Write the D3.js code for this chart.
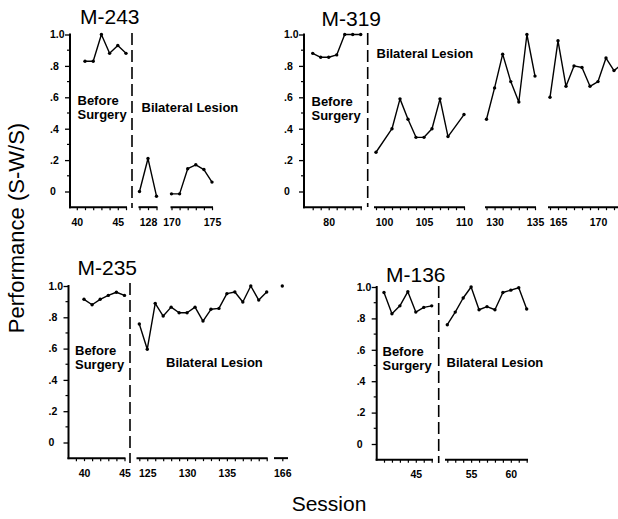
<!DOCTYPE html>
<html>
<head>
<meta charset="utf-8">
<script src="https://cdn.jsdelivr.net/npm/d3@7"></script>
<style>
body{margin:0;background:#fff;}
svg{display:block;font-family:"Liberation Sans", Arial, Helvetica, sans-serif;}
</style>
</head>
<body>
<div class="chart"></div>
<script>
// ---- values ----
const m243PreSessions = [41, 42, 43, 44, 45, 46];
const m243PreValues = [0.83, 0.83, 1.0, 0.88, 0.93, 0.88];
const m243LesionASessions = [127, 128, 129];
const m243LesionAValues = [0.0, 0.21, -0.03];
const m243LesionBSessions = [170, 171, 172, 173, 174, 175];
const m243LesionBValues = [-0.015, -0.015, 0.145, 0.17, 0.14, 0.06];

const m319PreSessions = [78, 79, 80, 81, 82, 83, 84];
const m319PreValues = [0.88, 0.855, 0.855, 0.87, 1.0, 1.0, 1.0];
const m319LesionASessions = [99, 101, 102, 103, 104, 105, 106, 107, 108, 110];
const m319LesionAValues = [0.25, 0.40, 0.59, 0.46, 0.345, 0.345, 0.40, 0.59, 0.35, 0.49];
const m319LesionBSessions = [129, 130, 131, 132, 133, 134, 135];
const m319LesionBValues = [0.46, 0.66, 0.875, 0.70, 0.57, 1.0, 0.735];
const m319LesionCSessions = [164, 165, 166, 167, 168, 169, 170, 171, 172, 173];
const m319LesionCValues = [0.60, 0.96, 0.67, 0.80, 0.79, 0.67, 0.70, 0.85, 0.77, 0.81];

const m235PreSessions = [40, 41, 42, 43, 44, 45];
const m235PreValues = [0.915, 0.88, 0.915, 0.94, 0.96, 0.94];
const m235LesionSessions = [124, 125, 126, 127, 128, 129, 130, 131, 132, 133, 134, 135, 136, 137, 138, 139, 140];
const m235LesionValues = [0.757, 0.596, 0.889, 0.808, 0.865, 0.829, 0.829, 0.865, 0.776, 0.851, 0.857, 0.951, 0.962, 0.898, 1.0, 0.91, 0.962];
const m235LateSessions = [166];
const m235LateValues = [1.0];

const m136PreSessions = [41, 42, 43, 44, 45, 46, 47];
const m136PreValues = [0.965, 0.83, 0.88, 0.97, 0.84, 0.87, 0.88];
const m136LesionSessions = [52, 53, 54, 55, 56, 57, 58, 59, 60, 61, 62];
const m136LesionValues = [0.76, 0.84, 0.93, 1.0, 0.855, 0.875, 0.855, 0.965, 0.98, 0.995, 0.86];

const yTickValues = [0, 0.2, 0.4, 0.6, 0.8, 1.0];
const yTickLabels = ['0', '.2', '.4', '.6', '.8', '1.0'];
const yMinorValues = [0.1, 0.3, 0.5, 0.7, 0.9];

const zip = (s, v) => s.map((d, i) => ({session: d, value: v[i]}));

const W = 618, H = 519;
const svg = d3.select('.chart').append('svg')
  .attr('width', W).attr('height', H)
  .attr('viewBox', [0, 0, W, H]);
svg.append('rect').attr('width', W).attr('height', H).attr('fill', '#fff');

class Panel{
  constructor(opts){
    Object.assign(this, opts);
    this.y = d3.scaleLinear().domain([0, 1]).range([this.yZero, this.yTop]);
    this.yBase = this.y(-0.1);
    this.g = svg.append('g');
  }

  _makeYAxis(){
    const ax = this.g.append('g')
      .attr('transform', `translate(${this.yAxisX},0)`)
      .call(d3.axisLeft(this.y).tickValues(yTickValues).tickSize(5)
        .tickFormat((d, i) => yTickLabels[i]));
    ax.select('.domain').remove();
    ax.selectAll('line').attr('stroke-width', 1.3);
    ax.selectAll('text')
      .attr('x', -20).attr('text-anchor', 'start')
      .attr('font-size', 10.5).attr('font-weight', 'bold');
    ax.attr('font-family', null);

    this.g.append('g').selectAll('line')
      .data(yMinorValues).join('line')
      .attr('x1', this.yAxisX - 3).attr('x2', this.yAxisX)
      .attr('y1', d => this.y(d)).attr('y2', d => this.y(d))
      .attr('stroke', '#000').attr('stroke-width', 1.2);

    this.g.append('line')
      .attr('x1', this.yAxisX).attr('x2', this.yAxisX)
      .attr('y1', this.y(1)).attr('y2', this.yBase)
      .attr('stroke', '#000').attr('stroke-width', 2).attr('stroke-linecap', 'square');
  }

  _makeSegments(){
    this.segments.forEach(seg => {
      const x = d3.scaleLinear().domain(seg.domain).range(seg.range);
      const ax = this.g.append('g')
        .attr('transform', `translate(0,${this.yBase})`)
        .call(d3.axisBottom(x).tickValues(seg.ticks).tickSize(3).tickPadding(8)
          .tickFormat(d => seg.labels.includes(d) ? d : ''));
      ax.select('.domain').remove();
      ax.attr('font-family', null);
      ax.selectAll('line').attr('stroke-width', 1.2);
      ax.selectAll('text').attr('font-size', 10.5).attr('font-weight', 'bold');

      this.g.append('line')
        .attr('x1', seg.line[0]).attr('x2', seg.line[1])
        .attr('y1', this.yBase).attr('y2', this.yBase)
        .attr('stroke', '#000').attr('stroke-width', 2).attr('stroke-linecap', 'square');

      const line = d3.line().x(d => x(d.session)).y(d => this.y(d.value));
      seg.series.forEach(s => {
        this.g.append('path').datum(s)
          .attr('d', line).attr('fill', 'none')
          .attr('stroke', '#000').attr('stroke-width', 1.4)
          .attr('stroke-linejoin', 'round');
        this.g.append('g').selectAll('circle')
          .data(s).join('circle')
          .attr('cx', d => x(d.session)).attr('cy', d => this.y(d.value))
          .attr('r', 1.7).attr('fill', '#000');
      });
    });
  }

  _makeText(){
    this.g.append('text')
      .attr('x', this.titleX).attr('y', this.titleY)
      .attr('font-size', 21).text(this.title);

    this.g.append('line')
      .attr('x1', this.dashX).attr('x2', this.dashX)
      .attr('y1', this.dashTop).attr('y2', this.dashBottom)
      .attr('stroke', '#000').attr('stroke-width', 1.6)
      .attr('stroke-dasharray', '12,5');

    // two separate lines so the boxes don't stack on each other
    this.g.append('text')
      .attr('x', this.beforeX).attr('y', this.beforeY[0])
      .attr('font-size', 13).attr('font-weight', 'bold').text('Before');
    this.g.append('text')
      .attr('x', this.beforeX).attr('y', this.beforeY[1])
      .attr('font-size', 13).attr('font-weight', 'bold').text('Surgery');

    this.g.append('text')
      .attr('x', this.lesionX).attr('y', this.lesionY)
      .attr('font-size', 13).attr('font-weight', 'bold')
      .text('Bilateral Lesion');
  }

  render(){
    this._makeYAxis();
    this._makeSegments();
    this._makeText();
  }
}

const panels = [
  new Panel({
    title: 'M-243', titleX: 80, titleY: 24,
    yAxisX: 70, yTop: 34.5, yZero: 191.5,
    dashX: 132, dashTop: 33, dashBottom: 208,
    beforeX: 77.5, beforeY: [105, 119], lesionX: 141.5, lesionY: 112,
    segments: [
      {domain: [40, 46], range: [76.8, 126], line: [70, 126], ticks: d3.range(40, 47), labels: [40, 45],
       series: [zip(m243PreSessions, m243PreValues)]},
      {domain: [127, 129], range: [139.5, 156.5], line: [139.5, 156.5], ticks: [127, 128, 129], labels: [128],
       series: [zip(m243LesionASessions, m243LesionAValues)]},
      {domain: [170, 175], range: [171.5, 212], line: [171.5, 212], ticks: d3.range(170, 176), labels: [170, 175],
       series: [zip(m243LesionBSessions, m243LesionBValues)]}
    ]
  }),
  new Panel({
    title: 'M-319', titleX: 321.5, titleY: 26,
    yAxisX: 304, yTop: 34.5, yZero: 191.5,
    dashX: 367.7, dashTop: 33, dashBottom: 207,
    beforeX: 311.5, beforeY: [105.5, 119.5], lesionX: 376.5, lesionY: 58,
    segments: [
      {domain: [78, 84], range: [312.7, 360.7], line: [304, 361], ticks: d3.range(78, 85), labels: [80],
       series: [zip(m319PreSessions, m319PreValues)]},
      {domain: [99, 110], range: [376, 464], line: [375, 464], ticks: d3.range(99, 111), labels: [100, 105, 110],
       series: [zip(m319LesionASessions, m319LesionAValues)]},
      {domain: [129, 135], range: [486.5, 535], line: [486, 535], ticks: d3.range(129, 136), labels: [130, 135],
       series: [zip(m319LesionBSessions, m319LesionBValues)]},
      {domain: [164, 173], range: [550, 622], line: [549, 622], ticks: d3.range(164, 174), labels: [165, 170],
       series: [zip(m319LesionCSessions, m319LesionCValues)]}
    ]
  }),
  new Panel({
    title: 'M-235', titleX: 77.5, titleY: 275,
    yAxisX: 68.5, yTop: 286, yZero: 442.5,
    dashX: 130, dashTop: 283, dashBottom: 463,
    beforeX: 75, beforeY: [354.5, 368.5], lesionX: 166, lesionY: 367,
    segments: [
      {domain: [39, 45], range: [75.9, 124.5], line: [68.5, 124.5], ticks: d3.range(39, 46), labels: [40, 45],
       series: [zip(m235PreSessions, m235PreValues)]},
      {domain: [124, 140], range: [139.3, 266.7], line: [137.5, 266.7], ticks: d3.range(124, 141), labels: [125, 130, 135],
       series: [zip(m235LesionSessions, m235LesionValues)]},
      {domain: [165, 167], range: [274.3, 290.3], line: [275, 287], ticks: [166], labels: [166],
       series: [zip(m235LateSessions, m235LateValues)]}
    ]
  }),
  new Panel({
    title: 'M-136', titleX: 386, titleY: 281.5,
    yAxisX: 376.7, yTop: 287, yZero: 444,
    dashX: 438.7, dashTop: 286, dashBottom: 463,
    beforeX: 382.5, beforeY: [356, 370], lesionX: 446.5, lesionY: 367,
    segments: [
      {domain: [41, 47], range: [384, 431.7], line: [376.7, 432], ticks: d3.range(41, 48), labels: [45],
       series: [zip(m136PreSessions, m136PreValues)]},
      {domain: [52, 62], range: [447.3, 526.7], line: [446, 527], ticks: d3.range(52, 63), labels: [55, 60],
       series: [zip(m136LesionSessions, m136LesionValues)]}
    ]
  })
];

panels.forEach(p => p.render());

// shared axis titles
svg.append('text')
  .attr('transform', 'translate(24,228) rotate(-90)')
  .attr('text-anchor', 'middle').attr('font-size', 22)
  .text('Performance (S-W/S)');

svg.append('text')
  .attr('x', 329).attr('y', 511)
  .attr('text-anchor', 'middle').attr('font-size', 21)
  .text('Session');
</script>
</body>
</html>
